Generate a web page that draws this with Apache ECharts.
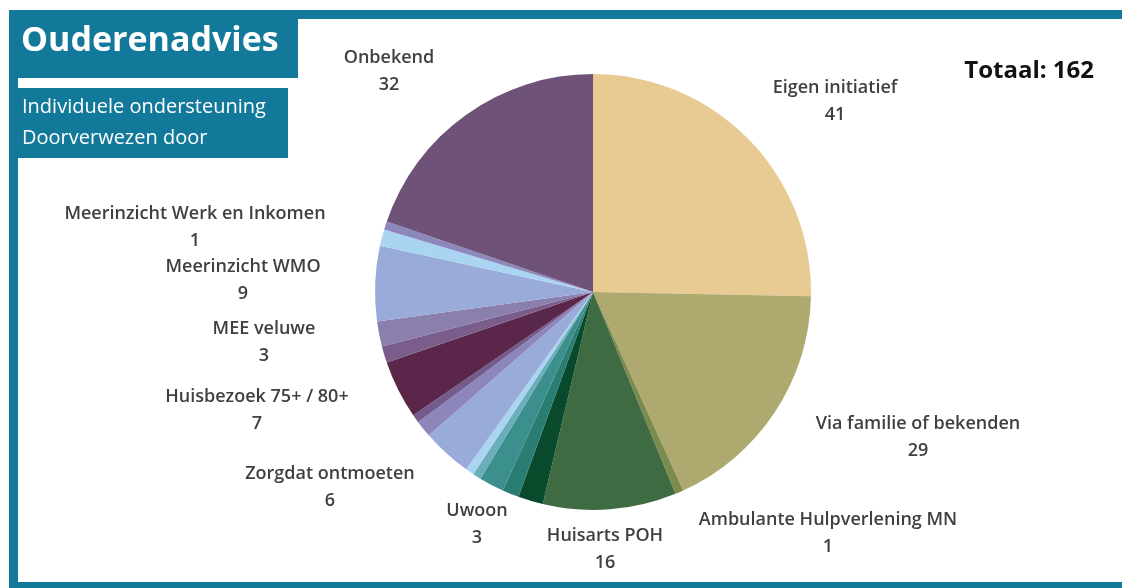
<!DOCTYPE html>
<html>
<head>
<meta charset="utf-8">
<script src="https://cdn.jsdelivr.net/npm/echarts@6/dist/echarts.min.js"></script>
<style>
  html, body { margin: 0; padding: 0; background: #fff; }
  #chart { width: 1122px; height: 588px; }
</style>
</head>
<body>
<div id="chart"></div>
<script>
// categories, clockwise from 12 o'clock
const names = [
  'Eigen initiatief', 'Via familie of bekenden', 'Ambulante Hulpverlening MN', 'Huisarts POH',
  'Overig 1', 'Overig 2', 'Uwoon', 'Overig 3', 'Overig 4', 'Zorgdat ontmoeten',
  'Overig 5', 'Overig 6', 'Huisbezoek 75+ / 80+', 'Overig 7', 'MEE veluwe',
  'Meerinzicht WMO', 'Overig 8', 'Meerinzicht Werk en Inkomen', 'Onbekend'
]
const values = [41, 29, 1, 16, 3, 2, 3, 1, 1, 6, 2, 1, 7, 2, 3, 9, 2, 1, 32]
const colors = [
  '#e8cb93', '#aeaa6f', '#7d8a4e', '#3e6b41',
  '#0a4a2c', '#2a7d72', '#3b8f8d', '#6aaeb9', '#a9d5f3', '#99acd9',
  '#8c86bb', '#735c8c', '#5a2649', '#7b5d8b', '#8b7fae',
  '#99acd9', '#a9d5f3', '#8d88bb', '#6e5277'
]
const total = 162

// label anchor (centre of the two-line label), only for labelled slices
const labelPos = {
  'Onbekend': [389, 71],
  'Eigen initiatief': [835, 101],
  'Via familie of bekenden': [918, 437],
  'Ambulante Hulpverlening MN': [828, 533],
  'Huisarts POH': [605, 549],
  'Uwoon': [477, 524],
  'Zorgdat ontmoeten': [330, 487],
  'Huisbezoek 75+ / 80+': [257, 410],
  'MEE veluwe': [264, 342],
  'Meerinzicht WMO': [243, 280],
  'Meerinzicht Werk en Inkomen': [195, 227]
}

const teal = '#12799a'
const font = '"Open Sans", sans-serif'

const chart = echarts.init(document.getElementById('chart'))
chart.setOption({
  animation: false,
  graphic: [
    // frame
    { type: 'rect', shape: { x: 9, y: 10, width: 1113, height: 9 }, style: { fill: teal } },
    { type: 'rect', shape: { x: 9, y: 10, width: 9, height: 578 }, style: { fill: teal } },
    { type: 'rect', shape: { x: 9, y: 582, width: 1113, height: 6 }, style: { fill: teal } },
    // header boxes
    { type: 'rect', shape: { x: 9, y: 10, width: 289, height: 68 }, style: { fill: teal } },
    { type: 'rect', shape: { x: 9, y: 88, width: 279, height: 70 }, style: { fill: teal } },
    {
      type: 'text', left: 21, top: 24,
      style: { text: 'Ouderenadvies', fill: '#fff', font: 'bold 34px ' + font }
    },
    {
      type: 'text', left: 22, top: 92,
      style: { text: 'Individuele ondersteuning\nDoorverwezen door', fill: '#fff', font: '20px ' + font, lineHeight: 31 }
    },
    {
      type: 'text', right: 28, top: 59,
      style: { text: 'Totaal: ' + total, fill: '#111', font: 'bold 24px ' + font }
    }
  ],
  series: [{
    type: 'pie',
    center: [593, 292],
    radius: 218,
    startAngle: 90,
    clockwise: true,
    avoidLabelOverlap: false,
    label: {
      show: true,
      position: 'outside',
      formatter: '{b}\n{c}',
      color: '#404040',
      fontFamily: font,
      fontSize: 18,
      fontWeight: 600,
      lineHeight: 27,
      align: 'center'
    },
    labelLine: { show: false },
    labelLayout: function (params) {
      const p = labelPos[names[params.dataIndex]]
      if (!p) return {}
      return { x: p[0], y: p[1], align: 'center', verticalAlign: 'middle' }
    },
    data: names.map((n, i) => ({
      name: n,
      value: values[i],
      itemStyle: { color: colors[i] },
      label: { show: !!labelPos[n] }
    }))
  }]
})
</script>
</body>
</html>
